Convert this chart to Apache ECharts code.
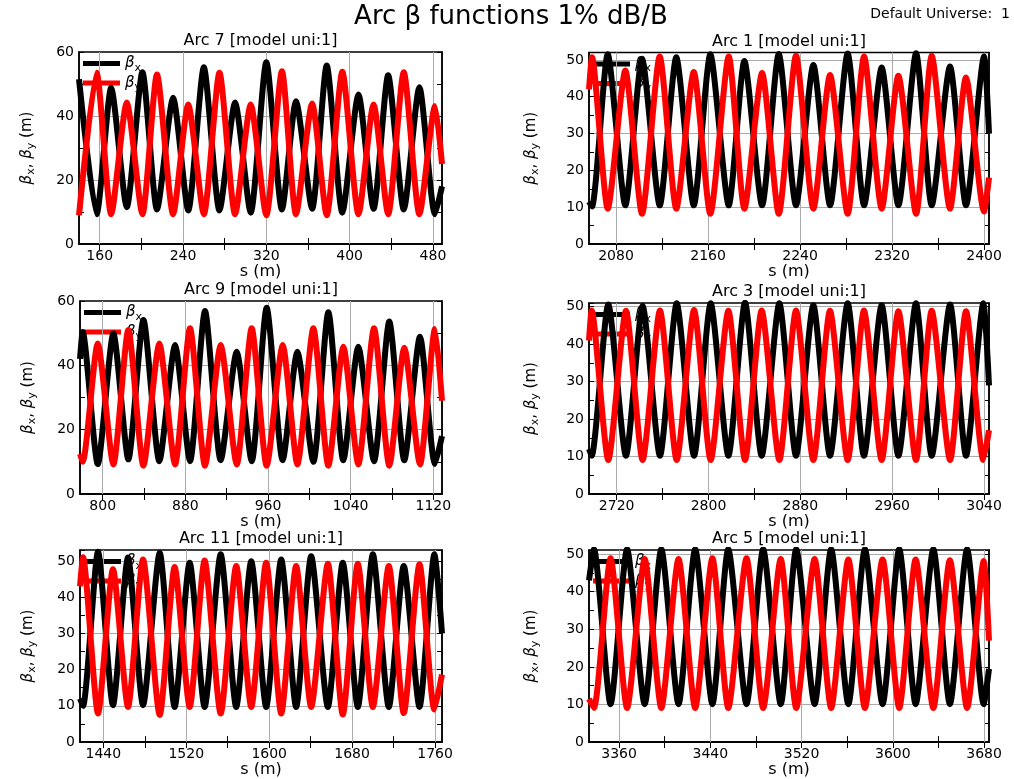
<!DOCTYPE html>
<html><head><meta charset="utf-8">
<script src="https://cdn.jsdelivr.net/npm/echarts@6/dist/echarts.min.js"></script>
<style>html,body{margin:0;padding:0;background:#fff}#c{width:1014px;height:779px}</style>
</head><body><div id="c"></div>
<script>
// ---------------- data (s in m, beta in m) ----------------
const arc7S  = [140.1, 157, 171, 186, 201, 215, 230.5, 245, 260, 275, 290, 305, 320, 335, 348.5, 364, 378, 393, 408.5, 423, 437, 452, 467, 482, 488.7];
const arc7Bx = [51.5, 9.3, 48.8, 11.5, 53.7, 10.8, 45.7, 10.5, 55.2, 10.5, 44.2, 9.8, 56.8, 10.8, 44.6, 11, 55.8, 9.8, 46.7, 11, 52.7, 10.8, 49, 9.3, 18];
const arc7By = [9, 53.5, 9.3, 44.2, 9.3, 53, 9.3, 43.6, 9.3, 53.5, 9.3, 43.6, 9, 54, 9.3, 43.9, 9, 53.8, 9.3, 43.6, 9.3, 53.7, 9.3, 43.1, 25];

const arc1S  = [2056.5, 2059.1, 2072.8, 2088.1, 2102.6, 2118.0, 2132.4, 2147.6, 2162.0, 2178.0, 2191.6, 2207.0, 2221.5, 2236.5, 2251.6, 2266.1, 2281.4, 2295.7, 2311.0, 2325.5, 2340.9, 2354.5, 2370.4, 2384.3, 2400.0, 2404.3];
const arc1Bx = [11.5, 10.2, 51.5, 10.5, 50.3, 10.5, 50.7, 10.5, 51.5, 10.5, 49.7, 10.5, 51.6, 10.5, 48.6, 10.5, 51.7, 10.5, 47.9, 10.5, 51.8, 10.5, 48.2, 10.5, 50.9, 30];
const arc1By = [42, 50.7, 9.6, 47.1, 8.2, 50.9, 9.6, 46.7, 8.2, 50.9, 9.6, 46.4, 8.2, 51.1, 9.6, 45.9, 8.2, 50.9, 9.6, 45.7, 8.2, 51.1, 9.6, 45.2, 8.8, 18];

const arc9S  = [778, 780.6, 795.2, 810.3, 824.8, 839.4, 854.8, 870, 884.5, 899, 914.2, 929.7, 944.2, 958.7, 974.2, 988.4, 1003.9, 1018.4, 1032.9, 1047.4, 1062.6, 1077.4, 1091.9, 1107.1, 1121.6, 1128.4];
const arc9Bx = [42, 50.4, 9.3, 49.9, 10.8, 54.1, 10.2, 46.3, 10.2, 56.9, 10.5, 44.2, 10.2, 57.9, 10.5, 44.2, 10, 56.5, 10.5, 45.8, 10.2, 53.6, 10.5, 48.9, 9.3, 18];
const arc9By = [12.5, 10, 46.8, 9.2, 51, 8.8, 46.8, 9.2, 51.5, 8.8, 46.3, 9.2, 51.5, 8.8, 46.3, 9.2, 51.5, 8.8, 45.8, 9.2, 51.5, 8.8, 45.5, 9.2, 51.3, 29];

const arc3S  = [2695.9, 2698.2, 2712.7, 2728.1, 2742.6, 2757.7, 2772.3, 2787.4, 2801.9, 2817.3, 2831.8, 2846.3, 2861.7, 2876.2, 2891.3, 2905.8, 2921.2, 2935.4, 2950.8, 2965.4, 2980.7, 2994.4, 3010.4, 3024.3, 3039.4, 3044.3];
const arc3Bx = [12, 10.2, 50.6, 10.2, 50.2, 10.2, 50.9, 10.2, 50.9, 10.2, 51.1, 10.2, 50.9, 10.2, 50.4, 10.2, 50.9, 10.2, 50.4, 10.2, 50.9, 10.2, 50.6, 10.2, 50.9, 29];
const arc3By = [41, 49, 9.1, 48.9, 9.1, 49, 9.1, 49.1, 9.1, 48.9, 9.1, 49, 9.1, 49, 9.1, 48.9, 9.1, 49, 9.1, 48.8, 9.1, 48.9, 9.1, 48.8, 9.1, 17];

const arc11S  = [1417.5, 1420.4, 1434.9, 1449.3, 1463.8, 1478.3, 1494.4, 1508.8, 1523.3, 1537.7, 1553.2, 1568.2, 1582.7, 1597.1, 1611.6, 1626.0, 1640.5, 1656.6, 1671.0, 1685.5, 1700.0, 1715.4, 1729.8, 1745.0, 1759.4, 1766.7];
const arc11Bx = [12, 10, 52.5, 10.2, 50.9, 10.2, 52.2, 9.7, 49.5, 9.7, 51.8, 9.7, 49.9, 9.7, 50.4, 9.7, 51.3, 9.7, 49.5, 9.7, 51.8, 9.7, 48.6, 9.7, 51.8, 30];
const arc11By = [43, 51, 7.9, 47.7, 9.7, 50.4, 7.5, 48.3, 9.7, 50.1, 7.9, 48.6, 9.7, 49.5, 7.9, 48.6, 9.7, 49.2, 7.6, 49.2, 9.7, 48.6, 8, 49.1, 9, 18.6];

const arc5S  = [3333.6, 3337.9, 3352.5, 3367.0, 3382.4, 3397.0, 3412.1, 3426.7, 3441.8, 3455.7, 3471.7, 3486.3, 3501.7, 3515.3, 3531.4, 3545.9, 3561.0, 3575.5, 3591.0, 3605.6, 3620.0, 3635.5, 3650.0, 3665.1, 3679.7, 3684.3];
const arc5Bx = [43, 51.3, 10.1, 51.3, 10.1, 51.3, 10.1, 51.3, 10.1, 51.3, 10.1, 51.3, 10.1, 51.3, 10.1, 51.3, 10.1, 51.3, 10.1, 51.3, 10.1, 51.3, 10.1, 51.3, 10.1, 19.5];
const arc5By = [11.5, 9.1, 48.9, 9.1, 48.7, 9.1, 48.7, 9.1, 48.9, 9.1, 48.9, 9.1, 48.7, 9.1, 48.7, 9.1, 48.6, 9.1, 48.6, 9.1, 48.6, 9.1, 48.4, 9.1, 48.2, 27];

// tick labels / tick positions
const arc7XLabels  = [160, 240, 320, 400, 480];
const arc7XTicks   = [160, 200, 240, 280, 320, 360, 400, 440, 480];
const arc1XLabels  = [2080, 2160, 2240, 2320, 2400];
const arc1XTicks   = [2080, 2120, 2160, 2200, 2240, 2280, 2320, 2360, 2400];
const arc9XLabels  = [800, 880, 960, 1040, 1120];
const arc9XTicks   = [800, 840, 880, 920, 960, 1000, 1040, 1080, 1120];
const arc3XLabels  = [2720, 2800, 2880, 2960, 3040];
const arc3XTicks   = [2720, 2760, 2800, 2840, 2880, 2920, 2960, 3000, 3040];
const arc11XLabels = [1440, 1520, 1600, 1680, 1760];
const arc11XTicks  = [1440, 1480, 1520, 1560, 1600, 1640, 1680, 1720, 1760];
const arc5XLabels  = [3360, 3440, 3520, 3600, 3680];
const arc5XTicks   = [3360, 3400, 3440, 3480, 3520, 3560, 3600, 3640, 3680];

const panelTitles = ['Arc 7 [model uni:1]', 'Arc 1 [model uni:1]', 'Arc 9 [model uni:1]', 'Arc 3 [model uni:1]', 'Arc 11 [model uni:1]', 'Arc 5 [model uni:1]'];
const mainTitle = 'Arc \u03b2 functions 1% dB/B';
const cornerText = 'Default Universe:  1';

// ---------------- layout ----------------
const panels = [
  {s: arc7S,  bx: arc7Bx,  by: arc7By,  xr: [140.1, 488.7],   y: [0, 60, 20], xl: arc7XLabels,  xt: arc7XTicks,  g: {left: 79,  top: 52,  width: 363, height: 192}, ng: 42},
  {s: arc1S,  bx: arc1Bx,  by: arc1By,  xr: [2056.5, 2404.3], y: [0, 52, 10], xl: arc1XLabels,  xt: arc1XTicks,  g: {left: 589, top: 52.5, width: 400, height: 191.5}, ng: 48},
  {s: arc9S,  bx: arc9Bx,  by: arc9By,  xr: [778, 1128.4],    y: [0, 60, 20], xl: arc9XLabels,  xt: arc9XTicks,  g: {left: 80,  top: 301, width: 362, height: 193}, ng: 42},
  {s: arc3S,  bx: arc3Bx,  by: arc3By,  xr: [2695.9, 3044.3], y: [0, 51, 10], xl: arc3XLabels,  xt: arc3XTicks,  g: {left: 589, top: 303, width: 400, height: 191}, ng: 48},
  {s: arc11S, bx: arc11Bx, by: arc11By, xr: [1417.5, 1766.7], y: [0, 53, 10], xl: arc11XLabels, xt: arc11XTicks, g: {left: 80,  top: 550, width: 362, height: 193}, ng: 42},
  {s: arc5S,  bx: arc5Bx,  by: arc5By,  xr: [3333.6, 3684.3], y: [0, 51.1, 10], xl: arc5XLabels, xt: arc5XTicks, g: {left: 589, top: 550, width: 400, height: 193}, ng: 48}
];

const FONT = 'DejaVu Sans';
const GRID_COLOR = '#ababab';
const LINE_W = 6;
const SMOOTH = 0.22;
const rich = {
  b: {fontFamily: FONT, fontSize: 15, fontStyle: 'italic', color: '#000', lineHeight: 20},
  s: {fontFamily: FONT, fontSize: 11, color: '#000', verticalAlign: 'bottom', lineHeight: 12},
  n: {fontFamily: FONT, fontSize: 15, color: '#000', lineHeight: 20}
};

const option = {
  backgroundColor: '#fff',
  animation: false,
  title: [
    {text: mainTitle, left: 511, textAlign: 'center', top: 4, padding: 0,
     textStyle: {fontFamily: FONT, fontSize: 26, fontWeight: 'normal', color: '#000'}},
    {text: cornerText, right: 4, top: 7, padding: 0,
     textStyle: {fontFamily: FONT, fontSize: 14, fontWeight: 'normal', color: '#000'}}
  ],
  grid: [], xAxis: [], yAxis: [], series: [], legend: []
};

panels.forEach((p, i) => {
  const g = p.g;
  option.grid.push({left: g.left, top: g.top, width: g.width, height: g.height, containLabel: false,
                    show: true, borderColor: '#000', borderWidth: 1.5, backgroundColor: 'transparent'});
  option.title.push({text: panelTitles[i], left: g.left + g.width / 2, textAlign: 'center', top: g.top - 19, padding: 0,
                     textStyle: {fontFamily: FONT, fontSize: 16, fontWeight: 'normal', color: '#000'}});
  const axLine = {show: true, lineStyle: {color: '#000', width: 1.5}};
  option.xAxis.push({
    gridIndex: i, type: 'value', position: 'bottom', min: p.xr[0], max: p.xr[1],
    axisLine: axLine,
    axisTick: {show: true, inside: true, length: 6, customValues: p.xt, lineStyle: {color: '#000', width: 1}},
    axisLabel: {show: true, customValues: p.xl, color: '#000', fontFamily: FONT, fontSize: 14, margin: 5,
                formatter: v => String(Math.round(v))},
    splitLine: {show: false},
    name: 's (m)', nameLocation: 'middle', nameGap: 19,
    nameTextStyle: {fontFamily: FONT, fontSize: 16, color: '#000'}
  });
  option.xAxis.push({
    gridIndex: i, type: 'value', position: 'top', min: p.xr[0], max: p.xr[1],
    axisLine: axLine,
    axisTick: {show: true, inside: true, length: 6, customValues: p.xt, lineStyle: {color: '#000', width: 1}},
    axisLabel: {show: false}, splitLine: {show: false}
  });
  option.yAxis.push({
    gridIndex: i, type: 'value', position: 'left', min: p.y[0], max: p.y[1], interval: p.y[2],
    axisLine: axLine,
    axisTick: {show: true, inside: true, length: 5, lineStyle: {color: '#000', width: 1}},
    minorTick: {show: true, splitNumber: 2, length: 5, lineStyle: {color: '#000', width: 1}},
    axisLabel: {show: true, color: '#000', fontFamily: FONT, fontSize: 14, margin: 5,
                showMaxLabel: p.y[1] % p.y[2] === 0},
    splitLine: {show: true, showMinLine: false, showMaxLine: false, lineStyle: {color: GRID_COLOR, width: 1}},
    name: '{b|\u03b2}{s|x}{n|, }{b|\u03b2}{s|y}{n| (m)}', nameLocation: 'middle', nameRotate: 90, nameGap: p.ng,
    nameTextStyle: {rich: rich}
  });
  option.yAxis.push({
    gridIndex: i, type: 'value', position: 'right', min: p.y[0], max: p.y[1], interval: p.y[2],
    axisLine: axLine,
    axisTick: {show: true, inside: true, length: 5, lineStyle: {color: '#000', width: 1}},
    minorTick: {show: true, splitNumber: 2, length: 5, lineStyle: {color: '#000', width: 1}},
    axisLabel: {show: false}, splitLine: {show: false}
  });
  option.series.push({
    type: 'line', name: '\u03b2x', xAxisIndex: 2 * i, yAxisIndex: 2 * i,
    data: p.s.map((v, k) => [v, p.bx[k]]),
    symbol: 'none', showSymbol: false, smooth: SMOOTH, z: 3,
    lineStyle: {color: '#000', width: LINE_W}, itemStyle: {color: '#000'},
    markLine: {silent: true, symbol: ['none', 'none'], z: 1, animation: false,
               label: {show: false}, lineStyle: {color: GRID_COLOR, width: 1, type: 'solid'},
               emphasis: {disabled: true},
               data: p.xl.map(v => ({xAxis: v}))}
  });
  option.series.push({
    type: 'line', name: '\u03b2y', xAxisIndex: 2 * i, yAxisIndex: 2 * i,
    data: p.s.map((v, k) => [v, p.by[k]]),
    symbol: 'none', showSymbol: false, smooth: SMOOTH, z: 4,
    lineStyle: {color: '#ff0000', width: LINE_W}, itemStyle: {color: '#ff0000'}
  });
  option.legend.push({
    data: ['\u03b2x', '\u03b2y'], orient: 'vertical', left: g.left + 4, top: g.top + 4,
    icon: 'rect', itemWidth: 37, itemHeight: 5, itemGap: 2, padding: 0, z: 1,
    selectedMode: false,
    formatter: n => '{b|\u03b2}{s|' + n.slice(1) + '}',
    textStyle: {rich: rich, padding: [0, 0, 0, 0]}
  });
});

const chart = echarts.init(document.getElementById('c'), null, {renderer: 'canvas'});
chart.setOption(option);
</script>
</body></html>
